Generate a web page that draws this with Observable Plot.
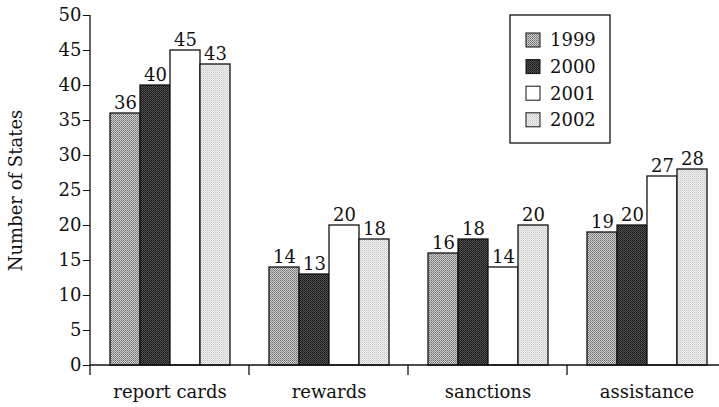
<!DOCTYPE html>
<html><head><meta charset="utf-8">
<script src="https://cdn.jsdelivr.net/npm/d3@7"></script>
<script src="https://cdn.jsdelivr.net/npm/@observablehq/plot@0.6"></script>
<style>body{margin:0;background:#fff} svg text{font-family:"DejaVu Serif",serif !important;}</style>
</head><body>
<svg width="0" height="0" style="position:absolute"><defs>
<pattern id="p1999" width="2" height="2" patternUnits="userSpaceOnUse"><rect width="2" height="2" fill="#cfcfcf"/><rect width="1" height="1" fill="#6a6a6a"/><rect x="1" y="1" width="1" height="1" fill="#8c8c8c"/></pattern>
<pattern id="p2000" width="2" height="2" patternUnits="userSpaceOnUse"><rect width="2" height="2" fill="#555"/><rect width="1" height="1" fill="#111"/><rect x="1" y="1" width="1" height="1" fill="#222"/></pattern>
<pattern id="p2002" width="2" height="2" patternUnits="userSpaceOnUse"><rect width="2" height="2" fill="#f2f2f2"/><rect width="1" height="1" fill="#c4c4c4"/><rect x="1" y="1" width="1" height="1" fill="#d8d8d8"/></pattern>
</defs></svg>
<div id="chart"></div>
<script>
const categories = ["report cards", "rewards", "sanctions", "assistance"];
const years = ["1999", "2000", "2001", "2002"];
const v1999 = [36, 14, 16, 19];
const v2000 = [40, 13, 18, 20];
const v2001 = [45, 20, 14, 27];
const v2002 = [43, 18, 20, 28];
const yTicks = [0, 5, 10, 15, 20, 25, 30, 35, 40, 45, 50];
const fills = ["url(#p1999)", "url(#p2000)", "#ffffff", "url(#p2002)"];

const series = [v1999, v2000, v2001, v2002];
const data = categories.flatMap((c, i) => years.map((y, j) => ({category: c, year: y, value: series[j][i]})));

const FONT = "DejaVu Serif";
const FS = 18;
const W = 719, H = 407, ML = 90, MR = -7, MT = 15, MB = 42;
const PI = 0.24, PO = 0.12;
const stepPx = (W - ML - MR) / (categories.length - PI + 2 * PO);
const outerPx = PO * stepPx;

const chart = Plot.plot({
  width: W, height: H,
  marginLeft: ML, marginRight: MR, marginTop: MT, marginBottom: MB,
  style: {fontFamily: FONT, fontSize: FS + "px", color: "#111", background: "white", overflow: "hidden"},
  fx: {domain: categories, paddingInner: PI, paddingOuter: PO},
  x: {domain: years, padding: 0, axis: null},
  y: {domain: [0, 50]},
  color: {domain: years, range: fills},
  marks: [
    Plot.barY(data, {fx: "category", x: "year", y: "value", fill: "year", stroke: "#111", strokeWidth: 1.3}),
    Plot.text(data, {fx: "category", x: "year", y: "value", text: d => String(d.value), lineAnchor: "bottom", dy: -5, fontSize: FS, fontFamily: FONT, fill: "#111"}),
    Plot.axisY({ticks: yTicks, tickSize: 7, tickPadding: 2, dx: -outerPx, label: "Number of States", labelAnchor: "center", labelArrow: "none", labelOffset: 100, fontSize: FS, fontFamily: FONT}),
    Plot.axisFx({anchor: "bottom", tickSize: 0, tickPadding: 20, label: null, fontSize: FS, fontFamily: FONT})
  ]
});
document.getElementById("chart").appendChild(chart);

const svg = d3.select(chart);
const y = chart.scale("y");
const fx = chart.scale("fx");
const n = categories.length;
const step = fx.step ?? stepPx;
const gap = step - fx.bandwidth;
const y0 = y.apply(0), yTop = y.apply(50);
const left = fx.apply(categories[0]) - gap / 2;
const g = svg.append("g").attr("stroke", "#111").attr("stroke-width", 1.3);
g.append("line").attr("x1", left).attr("x2", W).attr("y1", y0).attr("y2", y0);
g.append("line").attr("x1", left).attr("x2", left).attr("y1", y0).attr("y2", yTop);
const bounds = categories.map(c => fx.apply(c) - gap / 2);
bounds.push(bounds[n - 1] + step);
g.selectAll(".sep").data(bounds).join("line")
  .attr("x1", d => d).attr("x2", d => d).attr("y1", y0).attr("y2", y0 + 10);

// legend
const lg = svg.append("g").attr("font-family", FONT).attr("font-size", FS).attr("fill", "#111").attr("text-anchor", "start");
lg.append("rect").attr("x", 510).attr("y", 15).attr("width", 100).attr("height", 128)
  .attr("fill", "white").attr("stroke", "#111").attr("stroke-width", 1.3);
years.forEach((yr, i) => {
  const cy = 40 + i * 26.6;
  lg.append("rect").attr("x", 526).attr("y", cy - 7).attr("width", 14).attr("height", 14)
    .attr("fill", fills[i]).attr("stroke", "#111").attr("stroke-width", 1);
  lg.append("text").attr("x", 550).attr("y", cy).attr("dy", "0.35em").text(yr);
});
</script>
</body></html>
